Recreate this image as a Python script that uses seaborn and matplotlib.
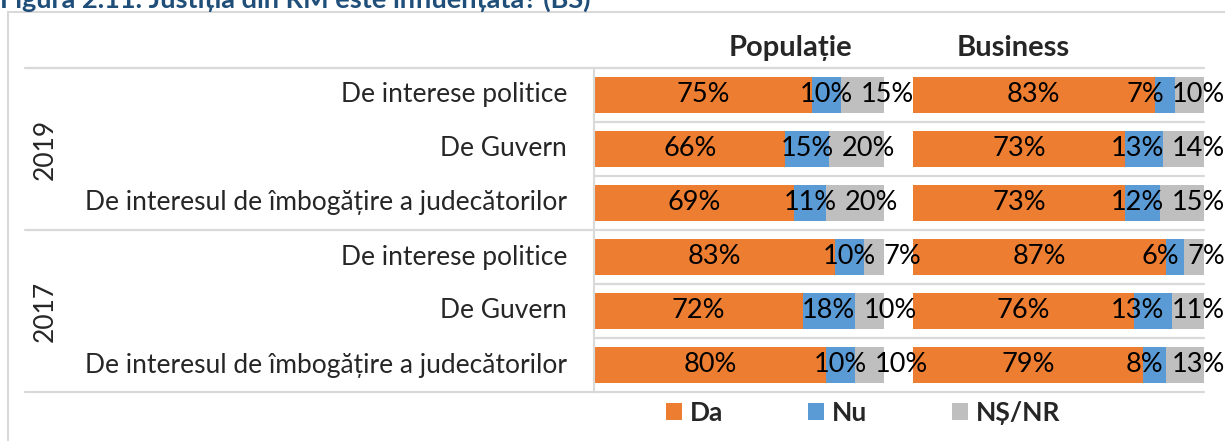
import numpy as np
import pandas as pd
import seaborn as sns
import matplotlib.pyplot as plt
import matplotlib.transforms as mtransforms
from matplotlib.patches import Rectangle, Patch
from matplotlib.lines import Line2D

# ---------------- data ----------------
title = "Figura 2.11. Justiția din RM este influențată? (BS)"
years = ["2019", "2017"]
categories = ["De interese politice", "De Guvern",
              "De interesul de îmbogățire a judecătorilor"]
panels = ["Populație", "Business"]
series = ["Da", "Nu", "NȘ/NR"]

pop_da = [75, 66, 69, 83, 72, 80]
pop_nu = [10, 15, 11, 10, 18, 10]
pop_ns = [15, 20, 20, 7, 10, 10]

bus_da = [83, 73, 73, 87, 76, 79]
bus_nu = [7, 13, 12, 6, 13, 8]
bus_ns = [10, 14, 15, 7, 11, 13]

colors = ["#ED7D31", "#5B9BD5", "#BFBFBF"]
line_col = "#D9D9D9"

# ---------------- style ----------------
sns.set_style("white")
plt.rcParams['font.family'] = ['Lato', 'DejaVu Sans']

W, H = 1225, 441
fig = plt.figure(figsize=(W / 100, H / 100), dpi=100)

rows = [f"{y}|{c}" for y in years for c in categories]
n = len(rows)

panel_data = {
    "Populație": (pop_da, pop_nu, pop_ns),
    "Business": (bus_da, bus_nu, bus_ns),
}

ax_bottom = 1 - 392 / H
ax_height = 324 / H
ax1 = fig.add_axes([594 / W, ax_bottom, 290 / W, ax_height])
ax2 = fig.add_axes([913 / W, ax_bottom, 291 / W, ax_height])
axes = [ax1, ax2]

for ax, pname in zip(axes, panels):
    da, nu, ns = panel_data[pname]
    da = np.array(da); nu = np.array(nu); ns = np.array(ns)
    df = pd.DataFrame({
        "row": rows * 3,
        "cum": np.concatenate([da + nu + ns, da + nu, da]),
        "series": ["NȘ/NR"] * n + ["Nu"] * n + ["Da"] * n,
    })
    sns.barplot(data=df, x="cum", y="row", hue="series", order=rows,
                hue_order=["NȘ/NR", "Nu", "Da"], dodge=False, orient="h",
                palette={"Da": colors[0], "Nu": colors[1], "NȘ/NR": colors[2]},
                width=0.67, linewidth=0, legend=False, ax=ax, saturation=1)
    ax.set_xlim(0, 100)
    ax.set_ylim(n - 0.5, -0.5)
    ax.set_xlabel(""); ax.set_ylabel("")
    ax.set_xticks([]); ax.set_yticks([])
    for s in ax.spines.values():
        s.set_visible(False)

ax1.spines["left"].set_visible(True)
ax1.spines["left"].set_color(line_col)
ax1.spines["left"].set_linewidth(1.5)

# ---------------- separators ----------------
tr = mtransforms.blended_transform_factory(fig.transFigure, ax1.transData)
for b in np.arange(-0.5, n, 1.0):
    group_edge = (b + 0.5) % len(categories) == 0
    x0 = 25 / W if group_edge else 594 / W
    fig.add_artist(Line2D([x0, 1204 / W], [b, b], transform=tr,
                          color=line_col, lw=1.6, zorder=0.5))

# outer frame
fig.add_artist(Rectangle((8 / W, -0.1), 1.2, 1.1 - 12 / H,
                         transform=fig.transFigure, fill=False,
                         edgecolor=line_col, lw=1.5, zorder=0.1))

# title (cut off at top as in reference)
fig.text(0.0, 1 - 8 / H, title, ha="left", va="baseline", fontsize=19.5,
         fontweight="bold", color="#1F4E79")

# headers
fig.text(790 / W, 1 - 48 / H, panels[0], ha="center", va="center",
         fontsize=21, fontweight="bold")
fig.text(1013 / W, 1 - 48 / H, panels[1], ha="center", va="center",
         fontsize=21, fontweight="bold")

# category labels
for i, r in enumerate(rows):
    fig.text(567 / W, i, r.split("|")[1], transform=tr, ha="right",
             va="center", fontsize=19)

# year labels
k = len(categories)
for gi, y in enumerate(years):
    yc = gi * k + (k - 1) / 2
    fig.text(45 / W, yc, y, transform=tr, ha="center", va="center",
             rotation=90, fontsize=19)

# ---------------- data labels ----------------
fig.canvas.draw()
renderer = fig.canvas.get_renderer()
gap = 8
fig_right = W

for ax, pname in zip(axes, panels):
    da, nu, ns = panel_data[pname]
    for i in range(n):
        vals = [da[i], nu[i], ns[i]]
        starts = np.cumsum([0] + vals[:-1])
        centers = [s + v / 2 for s, v in zip(starts, vals)]
        texts = []
        for c, v in zip(centers, vals):
            t = fig.text(c, i, f"{v}%", transform=ax.transData, ha="center",
                         va="center", fontsize=19.5, color="black", zorder=5)
            texts.append(t)
        widths = [t.get_window_extent(renderer).width for t in texts]
        xs = [ax.transData.transform((c, i))[0] for c in centers]
        # push the last label right so it does not overlap the middle one
        need = xs[1] + (widths[1] + widths[2]) / 2 + gap
        xs[2] = max(xs[2], need)
        limit = fig_right - widths[2] / 2
        if xs[2] > limit:
            xs[2] = limit
            xs[1] = min(xs[1], xs[2] - (widths[1] + widths[2]) / 2 - gap)
        inv = ax.transData.inverted()
        for t, xpix in zip(texts[1:], xs[1:]):
            xd = inv.transform((xpix, 0))[0]
            t.set_position((xd, i))

# ---------------- legend ----------------
handles = [Patch(facecolor=c, edgecolor="none") for c in colors]
fig.legend(handles, series, loc="center left",
           bbox_to_anchor=(666 / W, 1 - 413 / H), ncol=3, frameon=False,
           prop={"weight": "bold", "size": 19}, handlelength=0.62,
           handleheight=0.62, handletextpad=0.3, columnspacing=3.2,
           borderpad=0, borderaxespad=0)

fig.savefig("out.png", dpi=100)
